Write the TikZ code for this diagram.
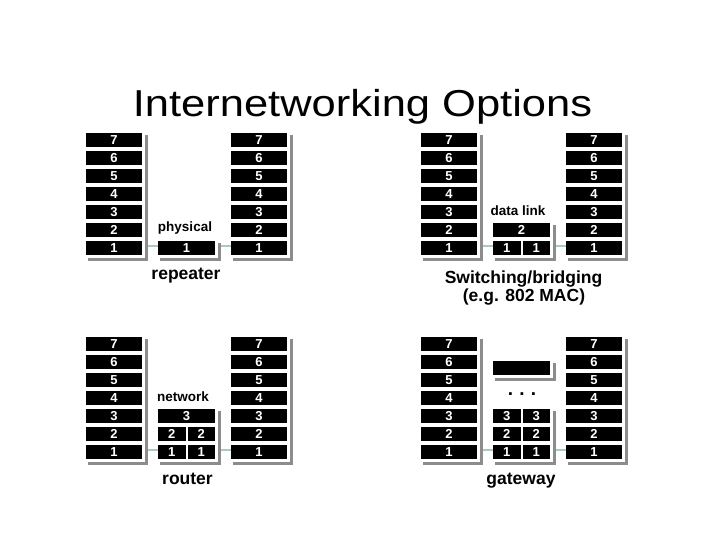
\documentclass[tikz,border=0pt]{standalone}
\usepackage{fontspec}
\setmainfont{Liberation Sans}
\definecolor{shadowgray}{RGB}{140,140,140}
\definecolor{linkcol}{RGB}{170,200,200}
\tikzset{
  cell/.style={fill=black, text=white, font=\bfseries\fontsize{13}{13}\selectfont,
    minimum width=56pt, minimum height=14pt, inner sep=0pt, outer sep=0pt},
  halfcell/.style={cell, minimum width=27.5pt},
  shadowline/.style={draw=shadowgray, line width=3pt},
  link/.style={draw=linkcol, line width=1.6pt},
  lbl/.style={font=\bfseries\fontsize{13.5}{13.5}\selectfont, anchor=base, inner sep=0pt},
  capt/.style={font=\bfseries\fontsize{17.5}{20}\selectfont, anchor=base, inner sep=0pt}
}
\newcommand\osistack[3]{%
  \foreach \n [count=\i from 0] in {7,6,5,4,3,2,1} {
    \node[cell] (#1\n) at (#2+28, #3+18*\i+7) {\n};
  }
  \draw[shadowline] ([xshift=4.5pt,yshift=-2pt]#17.north east) |- ([xshift=2pt,yshift=-4.5pt]#11.south west);
}
\begin{document}
\begin{tikzpicture}[x=1pt,y=-1pt]
\useasboundingbox (0,0) rectangle (720,540);
\fill[white] (0,0) rectangle (720,540);

% title
\node[anchor=base, inner sep=0pt, font=\fontsize{37.5}{40}\selectfont, xscale=1.16] (title) at (362.5,117) {Internetworking Options};

% ---------- Panel A: repeater ----------
\osistack{aL}{86}{133}
\osistack{aR}{231}{133}
\node[cell, minimum width=57pt] (aM1) at (186.5,248) {1};
\draw[shadowline] ([xshift=4.5pt,yshift=-2pt]aM1.north east) |- ([xshift=2pt,yshift=-4.5pt]aM1.south west);
\node[lbl] (aLbl) at (185,232) {physical};
\node[capt] (aCap) at (186,279) {repeater};
\draw[link] ([xshift=6pt,yshift=2pt]aL1.east) -- ([yshift=2pt]aM1.west);
\draw[link] ([xshift=6pt,yshift=2pt]aM1.east) -- ([yshift=2pt]aR1.west);

% ---------- Panel B: switching/bridging ----------
\osistack{bL}{421}{133}
\osistack{bR}{566}{133}
\node[cell, minimum width=57pt] (bM2) at (521.5,230) {2};
\node[halfcell] (bM1a) at (506.75,248) {1};
\node[halfcell] (bM1b) at (536.25,248) {1};
\draw[shadowline] ([xshift=4.5pt,yshift=-2pt]bM2.north east) |- ([xshift=2pt,yshift=-4.5pt]bM1a.south west);
\node[lbl] (bLbl) at (518,215) {data link};
\node[capt] (bCap1) at (523.5,283) {Switching/bridging};
\node[capt] (bCap2) at (524,301) {(e.g. 802 MAC)};
\draw[link] ([xshift=6pt,yshift=2pt]bL1.east) -- ([yshift=2pt]bM1a.west);
\draw[link] ([xshift=6pt,yshift=2pt]bM1b.east) -- ([yshift=2pt]bR1.west);

% ---------- Panel C: router ----------
\osistack{cL}{86}{337}
\osistack{cR}{231}{337}
\node[cell, minimum width=57pt] (cM3) at (186.5,416) {3};
\node[halfcell] (cM2a) at (171.75,434) {2};
\node[halfcell] (cM2b) at (201.25,434) {2};
\node[halfcell] (cM1a) at (171.75,452) {1};
\node[halfcell] (cM1b) at (201.25,452) {1};
\draw[shadowline] ([xshift=4.5pt,yshift=-2pt]cM3.north east) |- ([xshift=2pt,yshift=-4.5pt]cM1a.south west);
\node[lbl] (cLbl) at (183,401) {network};
\node[capt] (cCap) at (187.5,484) {router};
\draw[link] ([xshift=6pt,yshift=2pt]cL1.east) -- ([yshift=2pt]cM1a.west);
\draw[link] ([xshift=6pt,yshift=2pt]cM1b.east) -- ([yshift=2pt]cR1.west);

% ---------- Panel D: gateway ----------
\osistack{dL}{421}{337}
\osistack{dR}{566}{337}
\node[cell, minimum width=57pt] (dTop) at (521.5,368) {};
\draw[shadowline] ([xshift=4.5pt,yshift=-2pt]dTop.north east) |- ([xshift=2pt,yshift=-4.5pt]dTop.south west);
\node[anchor=base, inner sep=0pt, font=\bfseries\fontsize{19}{19}\selectfont] (dDots) at (522,395) {.\,\,.\,\,.};
\node[halfcell] (dM3a) at (506.75,416) {3};
\node[halfcell] (dM3b) at (536.25,416) {3};
\node[halfcell] (dM2a) at (506.75,434) {2};
\node[halfcell] (dM2b) at (536.25,434) {2};
\node[halfcell] (dM1a) at (506.75,452) {1};
\node[halfcell] (dM1b) at (536.25,452) {1};
\draw[shadowline] ([xshift=4.5pt,yshift=-2pt]dM3b.north east) |- ([xshift=2pt,yshift=-4.5pt]dM1a.south west);
\node[capt] (dCap) at (521,484) {gateway};
\draw[link] ([xshift=6pt,yshift=2pt]dL1.east) -- ([yshift=2pt]dM1a.west);
\draw[link] ([xshift=6pt,yshift=2pt]dM1b.east) -- ([yshift=2pt]dR1.west);
\end{tikzpicture}
\end{document}
